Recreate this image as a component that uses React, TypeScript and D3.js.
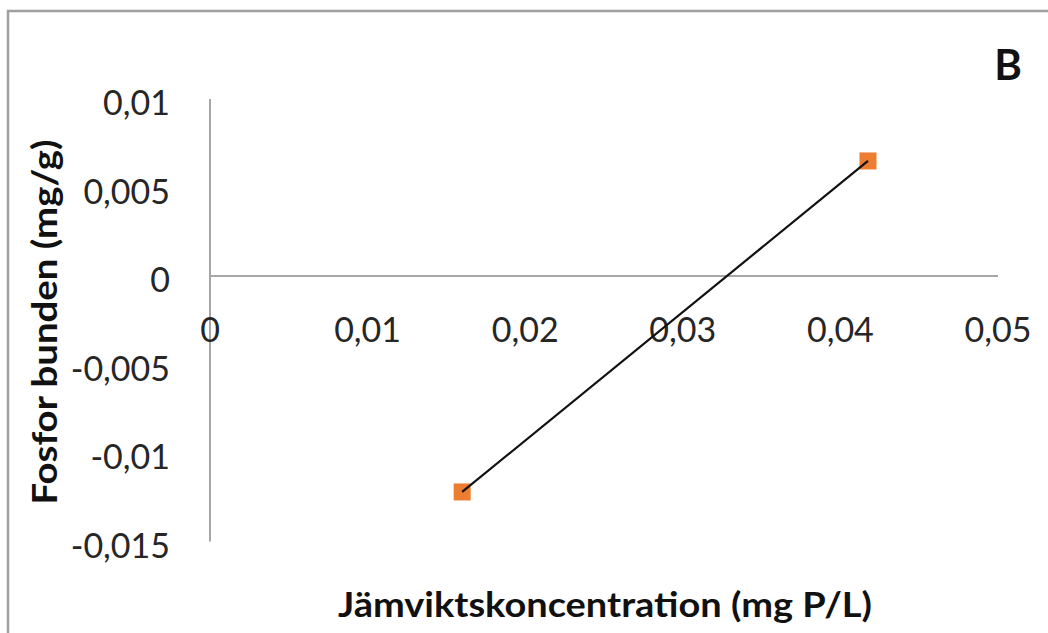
import React from "react";
import * as d3 from "d3";

const xValues = [0.016, 0.04175];
const yValues = [-0.0122, 0.0065];
const xTicks = [0, 0.01, 0.02, 0.03, 0.04, 0.05];
const yTicks = [0.01, 0.005, 0, -0.005, -0.01, -0.015];
const xTitle = "Jämviktskoncentration (mg P/L)";
const yTitle = "Fosfor bunden (mg/g)";
const panelLabel = "B";

const fmt = (v: number) => {
  if (v === 0) return "0";
  const s = String(Number(v.toFixed(4)));
  return s.replace(".", ",");
};

export default function App() {
  const W = 1048, H = 633;
  const x = d3.scaleLinear().domain([0, 0.05]).range([210, 998]);
  const y = d3.scaleLinear().domain([-0.015, 0.01]).range([541.5, 99]);
  const pts = xValues.map((v, i) => [x(v), y(yValues[i])] as [number, number]);
  const line = d3.line()(pts) || "";
  const font = "Lato, 'Open Sans', sans-serif";
  const ms = 17;
  return (
    <svg width={W} height={H} style={{ position: "absolute", left: 0, top: 0, background: "#fff" }}>
      <rect x={0} y={0} width={W} height={H} fill="#fff" />
      <path d={`M8,${H} V11 H${W}`} fill="none" stroke="#a0a0a0" strokeWidth={2.5} />
      {/* axes */}
      <line x1={x(0)} x2={x(0)} y1={y(0.01)} y2={y(-0.015)} stroke="#a6a6a6" strokeWidth={2} />
      <line x1={x(0)} x2={x(0.05)} y1={y(0)} y2={y(0)} stroke="#a6a6a6" strokeWidth={2} />
      {yTicks.map((t) => (
        <text key={"y" + t} x={170} y={y(t) + 16} textAnchor="end" fontFamily={font} fontSize={34} fill="#262626">
          {fmt(t)}
        </text>
      ))}
      {xTicks.map((t) => (
        <text key={"x" + t} x={x(t)} y={342} textAnchor="middle" fontFamily={font} fontSize={34} fill="#262626">
          {fmt(t)}
        </text>
      ))}
      {pts.map((p, i) => (
        <rect key={"m" + i} x={p[0] - ms / 2} y={p[1] - ms / 2} width={ms} height={ms} fill="#ED7D31" />
      ))}
      <path d={line} fill="none" stroke="#111" strokeWidth={2.2} />
      <text x={605} y={617} textAnchor="middle" fontFamily={font} fontWeight="bold" fontSize={35} fill="#111"
        textLength={534} lengthAdjust="spacingAndGlyphs">
        {xTitle}
      </text>
      <text transform="translate(57,322) rotate(-90)" textAnchor="middle" fontFamily={font} fontWeight="bold" fontSize={35} fill="#111"
        textLength={365} lengthAdjust="spacingAndGlyphs">
        {yTitle}
      </text>
      <text x={1008} y={80} textAnchor="middle" fontFamily={font} fontWeight="bold" fontSize={42} fill="#111">
        {panelLabel}
      </text>
    </svg>
  );
}
